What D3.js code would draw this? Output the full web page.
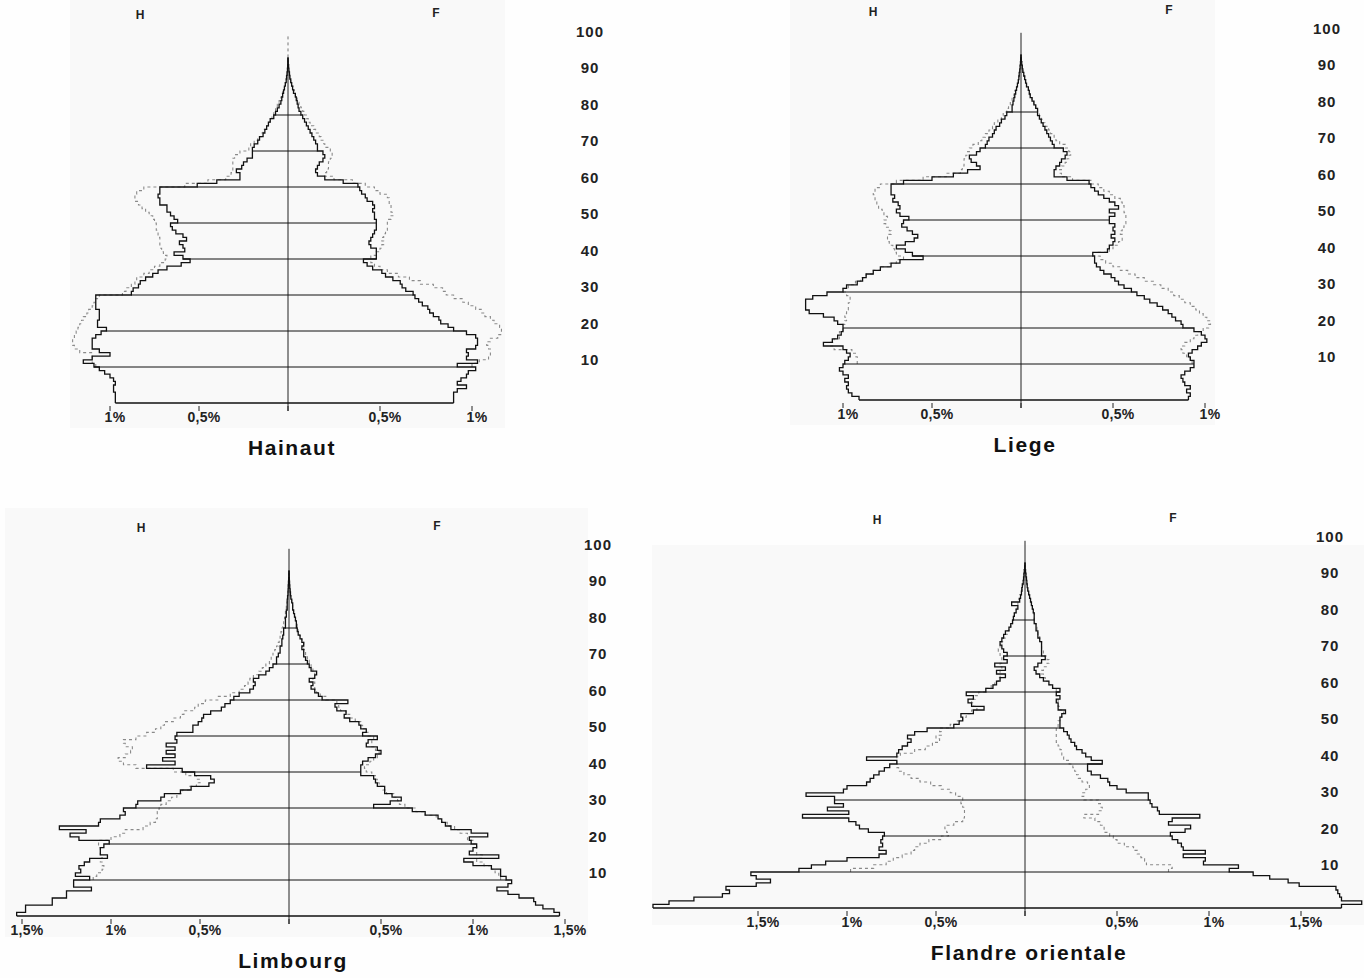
<!DOCTYPE html>
<html>
<head>
<meta charset="utf-8">
<script src="https://cdn.jsdelivr.net/npm/d3@7/dist/d3.min.js"></script>
<style>
  body { margin: 0; background: #fff; }
  svg { display: block; font-family: "Liberation Sans", Arial, sans-serif; }
</style>
</head>
<body>
<svg id="chart"></svg>
<script>
// --- Data: % of population per single year of age ---
// solid = current census (ages 0..95), dashed = earlier census aged (ages 10..95)
const ages = d3.range(0, 96);
const prevStart = 10;
const decades = [0, 10, 20, 30, 40, 50, 60, 70, 80];
const ageLabels = [10, 20, 30, 40, 50, 60, 70, 80, 90, 100];

const hainautH = [
  0.97, 0.97, 0.97, 0.98, 0.98, 0.97, 0.98, 1.00, 1.03, 1.06,
  1.09, 1.15, 1.10, 1.00, 1.06, 1.10, 1.10, 1.10, 1.08, 1.05,
  1.02, 1.07, 1.07, 1.06, 1.06, 1.06, 1.08, 1.08, 1.08, 1.08,
  0.88, 0.87, 0.84, 0.83, 0.80, 0.76, 0.73, 0.68, 0.60, 0.55,
  0.59, 0.64, 0.58, 0.59, 0.61, 0.57, 0.59, 0.63, 0.65, 0.66,
  0.62, 0.64, 0.66, 0.68, 0.68, 0.72, 0.72, 0.73, 0.72, 0.72,
  0.51, 0.40, 0.27, 0.27, 0.29, 0.26, 0.25, 0.23, 0.20, 0.20,
  0.20, 0.19, 0.17, 0.16, 0.14, 0.13, 0.12, 0.11, 0.10, 0.08,
  0.07, 0.06, 0.05, 0.04, 0.035, 0.03, 0.025, 0.02, 0.015, 0.01,
  0.008, 0.005, 0.003, 0.002, 0.001, 0
];
const hainautHprev = [
  1.08, 1.10, 1.10, 1.10, 1.17, 1.20, 1.21, 1.21, 1.20, 1.19,
  1.18, 1.17, 1.16, 1.15, 1.13, 1.12, 1.10, 1.09, 1.08, 1.06,
  0.93, 0.91, 0.88, 0.86, 0.85, 0.81, 0.78, 0.75, 0.72, 0.69,
  0.68, 0.70, 0.71, 0.72, 0.72, 0.72, 0.73, 0.73, 0.74, 0.74,
  0.75, 0.76, 0.78, 0.80, 0.82, 0.84, 0.86, 0.86, 0.85, 0.81,
  0.58, 0.45, 0.35, 0.32, 0.31, 0.31, 0.31, 0.31, 0.30, 0.27,
  0.22, 0.21, 0.19, 0.17, 0.15, 0.14, 0.12, 0.11, 0.10, 0.09,
  0.08, 0.07, 0.06, 0.05, 0.04, 0.035, 0.03, 0.02, 0.015, 0.01,
  0.008, 0.005, 0.003, 0.002, 0.001, 0
];
const hainautF = [
  0.90, 0.90, 0.90, 0.92, 0.97, 0.92, 0.94, 0.97, 0.98, 1.02,
  0.92, 1.03, 0.97, 0.98, 0.97, 1.02, 1.03, 1.03, 1.02, 0.97,
  0.90, 0.87, 0.83, 0.82, 0.79, 0.77, 0.76, 0.73, 0.71, 0.69,
  0.68, 0.64, 0.62, 0.61, 0.57, 0.53, 0.51, 0.46, 0.43, 0.41,
  0.48, 0.48, 0.48, 0.45, 0.44, 0.45, 0.46, 0.47, 0.48, 0.48,
  0.48, 0.47, 0.47, 0.46, 0.47, 0.46, 0.43, 0.42, 0.40, 0.39,
  0.38, 0.30, 0.20, 0.16, 0.15, 0.16, 0.17, 0.19, 0.20, 0.19,
  0.16, 0.16, 0.15, 0.14, 0.13, 0.12, 0.11, 0.10, 0.09, 0.08,
  0.07, 0.06, 0.055, 0.05, 0.045, 0.04, 0.03, 0.025, 0.02, 0.015,
  0.01, 0.008, 0.005, 0.003, 0.001, 0
];
const hainautFprev = [
  1.00, 1.04, 1.09, 1.10, 1.10, 1.09, 1.08, 1.10, 1.14, 1.16,
  1.16, 1.15, 1.12, 1.10, 1.07, 1.05, 1.02, 0.98, 0.95, 0.90,
  0.86, 0.84, 0.79, 0.72, 0.66, 0.60, 0.54, 0.50, 0.47, 0.45,
  0.45, 0.48, 0.50, 0.51, 0.52, 0.51, 0.52, 0.53, 0.54, 0.54,
  0.54, 0.56, 0.57, 0.56, 0.56, 0.55, 0.55, 0.54, 0.50, 0.47,
  0.42, 0.35, 0.25, 0.20, 0.21, 0.22, 0.22, 0.23, 0.24, 0.24,
  0.23, 0.20, 0.19, 0.18, 0.17, 0.15, 0.14, 0.12, 0.11, 0.10,
  0.09, 0.08, 0.07, 0.06, 0.05, 0.04, 0.035, 0.03, 0.02, 0.015,
  0.01, 0.008, 0.005, 0.003, 0.001, 0
];

const liegeH = [
  0.91, 0.95, 0.97, 0.98, 0.97, 0.99, 0.97, 1.00, 1.02, 1.00,
  0.99, 0.97, 0.96, 0.98, 1.00, 1.11, 1.06, 1.03, 1.01, 1.00,
  1.00, 1.03, 1.05, 1.11, 1.19, 1.21, 1.21, 1.21, 1.17, 1.09,
  1.00, 0.98, 0.92, 0.89, 0.87, 0.83, 0.79, 0.73, 0.68, 0.55,
  0.61, 0.65, 0.70, 0.65, 0.60, 0.58, 0.61, 0.64, 0.67, 0.66,
  0.63, 0.68, 0.70, 0.68, 0.69, 0.72, 0.71, 0.73, 0.73, 0.73,
  0.66, 0.50, 0.38, 0.30, 0.23, 0.25, 0.28, 0.29, 0.25, 0.23,
  0.20, 0.19, 0.18, 0.16, 0.15, 0.14, 0.12, 0.11, 0.09, 0.08,
  0.05, 0.05, 0.045, 0.04, 0.035, 0.03, 0.025, 0.02, 0.015, 0.012,
  0.01, 0.007, 0.005, 0.003, 0.002, 0
];
const liegeHprev = [
  0.92, 0.92, 0.93, 0.95, 1.05, 1.07, 1.05, 1.02, 1.02, 1.00,
  1.00, 0.99, 0.98, 0.99, 0.98, 0.97, 0.97, 0.96, 0.96, 0.98,
  1.00, 0.97, 0.93, 0.90, 0.87, 0.83, 0.79, 0.74, 0.70, 0.66,
  0.70, 0.71, 0.72, 0.74, 0.75, 0.75, 0.73, 0.74, 0.76, 0.77,
  0.75, 0.77, 0.78, 0.80, 0.81, 0.82, 0.82, 0.83, 0.82, 0.79,
  0.70, 0.55, 0.42, 0.34, 0.33, 0.32, 0.32, 0.31, 0.30, 0.29,
  0.27, 0.24, 0.22, 0.20, 0.18, 0.16, 0.15, 0.13, 0.11, 0.10,
  0.08, 0.07, 0.06, 0.05, 0.04, 0.035, 0.03, 0.02, 0.015, 0.012,
  0.01, 0.007, 0.005, 0.003, 0.002, 0
];
const liegeF = [
  0.91, 0.92, 0.90, 0.92, 0.89, 0.88, 0.87, 0.89, 0.92, 0.94,
  0.94, 0.92, 0.91, 0.93, 0.96, 0.98, 1.01, 1.00, 0.98, 0.94,
  0.88, 0.87, 0.84, 0.82, 0.80, 0.77, 0.74, 0.70, 0.67, 0.63,
  0.60, 0.56, 0.53, 0.51, 0.49, 0.45, 0.43, 0.41, 0.40, 0.40,
  0.39, 0.47, 0.48, 0.50, 0.51, 0.49, 0.51, 0.50, 0.51, 0.48,
  0.48, 0.51, 0.48, 0.53, 0.51, 0.48, 0.45, 0.42, 0.40, 0.38,
  0.37, 0.25, 0.18, 0.18, 0.19, 0.21, 0.22, 0.24, 0.25, 0.23,
  0.18, 0.17, 0.16, 0.15, 0.14, 0.13, 0.12, 0.11, 0.10, 0.09,
  0.09, 0.08, 0.07, 0.06, 0.05, 0.045, 0.04, 0.03, 0.025, 0.02,
  0.015, 0.01, 0.007, 0.004, 0.002, 0
];
const liegeFprev = [
  0.93, 0.92, 0.90, 0.88, 0.87, 0.89, 0.92, 0.94, 0.96, 0.99,
  1.02, 1.03, 1.01, 0.99, 0.97, 0.95, 0.92, 0.89, 0.86, 0.83,
  0.80, 0.76, 0.72, 0.67, 0.62, 0.58, 0.54, 0.50, 0.46, 0.43,
  0.42, 0.48, 0.50, 0.53, 0.55, 0.55, 0.54, 0.55, 0.56, 0.57,
  0.57, 0.57, 0.56, 0.56, 0.55, 0.54, 0.51, 0.48, 0.45, 0.42,
  0.38, 0.28, 0.22, 0.21, 0.22, 0.24, 0.25, 0.26, 0.27, 0.26,
  0.24, 0.21, 0.19, 0.18, 0.16, 0.15, 0.13, 0.12, 0.11, 0.10,
  0.09, 0.08, 0.07, 0.06, 0.05, 0.045, 0.04, 0.03, 0.025, 0.02,
  0.015, 0.01, 0.007, 0.004, 0.002, 0
];

const limbourgH = [
  1.53, 1.48, 1.48, 1.33, 1.33, 1.25, 1.25, 1.11, 1.21, 1.21,
  1.12, 1.20, 1.17, 1.18, 1.15, 1.12, 1.02, 1.06, 1.06, 1.04,
  1.01, 1.18, 1.23, 1.14, 1.29, 1.07, 1.06, 0.95, 0.92, 0.93,
  0.86, 0.85, 0.72, 0.70, 0.61, 0.55, 0.45, 0.42, 0.44, 0.53,
  0.60, 0.80, 0.64, 0.71, 0.64, 0.69, 0.64, 0.69, 0.63, 0.64,
  0.63, 0.54, 0.54, 0.51, 0.49, 0.48, 0.44, 0.38, 0.36, 0.33,
  0.31, 0.28, 0.22, 0.20, 0.19, 0.20, 0.17, 0.13, 0.11, 0.09,
  0.07, 0.07, 0.06, 0.05, 0.05, 0.04, 0.04, 0.035, 0.03, 0.03,
  0.02, 0.02, 0.02, 0.015, 0.015, 0.01, 0.01, 0.01, 0.008, 0.006,
  0.005, 0.004, 0.003, 0.002, 0.001, 0
];
const limbourgHprev = [
  1.10, 1.08, 1.05, 1.04, 1.05, 1.06, 1.05, 1.06, 1.06, 1.07,
  1.07, 1.00, 0.95, 0.92, 0.82, 0.78, 0.75, 0.74, 0.74, 0.73,
  0.72, 0.69, 0.66, 0.63, 0.60, 0.56, 0.52, 0.50, 0.52, 0.58,
  0.65, 0.86, 0.93, 0.96, 0.92, 0.89, 0.88, 0.92, 0.93, 0.86,
  0.80, 0.75, 0.72, 0.70, 0.65, 0.61, 0.59, 0.53, 0.51, 0.47,
  0.40, 0.33, 0.28, 0.25, 0.23, 0.22, 0.20, 0.17, 0.15, 0.13,
  0.11, 0.10, 0.09, 0.08, 0.07, 0.06, 0.055, 0.05, 0.045, 0.04,
  0.035, 0.03, 0.025, 0.02, 0.02, 0.015, 0.012, 0.01, 0.008, 0.006,
  0.005, 0.004, 0.003, 0.002, 0.001, 0
];
const limbourgF = [
  1.47, 1.44, 1.38, 1.34, 1.33, 1.25, 1.19, 1.13, 1.19, 1.21,
  1.18, 1.15, 1.15, 1.10, 1.00, 0.95, 1.14, 0.98, 1.00, 1.02,
  0.99, 0.98, 1.08, 0.99, 0.88, 0.85, 0.83, 0.81, 0.74, 0.67,
  0.46, 0.55, 0.61, 0.56, 0.52, 0.52, 0.48, 0.47, 0.46, 0.39,
  0.39, 0.39, 0.40, 0.43, 0.47, 0.50, 0.48, 0.42, 0.43, 0.48,
  0.40, 0.42, 0.39, 0.38, 0.33, 0.30, 0.31, 0.26, 0.25, 0.32,
  0.18, 0.16, 0.14, 0.12, 0.13, 0.11, 0.14, 0.15, 0.12, 0.11,
  0.10, 0.09, 0.08, 0.08, 0.07, 0.08, 0.07, 0.06, 0.05, 0.045,
  0.04, 0.04, 0.035, 0.03, 0.025, 0.02, 0.02, 0.015, 0.01, 0.008,
  0.006, 0.004, 0.003, 0.002, 0.001, 0
];
const limbourgFprev = [
  1.15, 1.14, 1.12, 1.10, 1.06, 1.02, 1.05, 1.02, 1.02, 1.02,
  1.00, 0.97, 0.97, 0.93, 0.90, 0.86, 0.83, 0.80, 0.74, 0.69,
  0.63, 0.60, 0.59, 0.57, 0.53, 0.51, 0.49, 0.48, 0.47, 0.45,
  0.42, 0.41, 0.44, 0.46, 0.48, 0.49, 0.47, 0.45, 0.45, 0.46,
  0.43, 0.42, 0.40, 0.39, 0.36, 0.33, 0.31, 0.28, 0.27, 0.26,
  0.20, 0.17, 0.15, 0.14, 0.14, 0.13, 0.14, 0.14, 0.13, 0.12,
  0.11, 0.10, 0.09, 0.09, 0.08, 0.08, 0.07, 0.06, 0.055, 0.05,
  0.045, 0.04, 0.035, 0.03, 0.025, 0.02, 0.02, 0.015, 0.01, 0.008,
  0.006, 0.004, 0.003, 0.002, 0.001, 0
];

const flandreH = [
  2.09, 2.00, 1.86, 1.70, 1.66, 1.68, 1.51, 1.43, 1.51, 1.54,
  1.27, 1.20, 1.12, 1.00, 0.82, 0.78, 0.82, 0.80, 0.81, 0.80,
  0.79, 0.88, 0.93, 0.95, 0.99, 1.25, 0.99, 1.11, 1.02, 1.07,
  1.07, 1.23, 1.02, 1.00, 0.89, 0.87, 0.85, 0.82, 0.79, 0.76,
  0.72, 0.89, 0.72, 0.71, 0.69, 0.66, 0.64, 0.66, 0.62, 0.55,
  0.40, 0.37, 0.35, 0.36, 0.29, 0.23, 0.30, 0.32, 0.29, 0.33,
  0.22, 0.18, 0.16, 0.14, 0.11, 0.16, 0.11, 0.17, 0.10, 0.12,
  0.10, 0.12, 0.13, 0.14, 0.13, 0.12, 0.11, 0.09, 0.08, 0.07,
  0.065, 0.06, 0.05, 0.04, 0.075, 0.03, 0.025, 0.02, 0.018, 0.015,
  0.01, 0.008, 0.006, 0.004, 0.002, 0
];
const flandreHprev = [
  0.98, 0.85, 0.78, 0.74, 0.69, 0.64, 0.62, 0.59, 0.54, 0.47,
  0.43, 0.44, 0.45, 0.40, 0.35, 0.34, 0.34, 0.34, 0.35, 0.36,
  0.35, 0.39, 0.42, 0.47, 0.53, 0.59, 0.64, 0.68, 0.71, 0.72,
  0.72, 0.72, 0.70, 0.62, 0.56, 0.52, 0.48, 0.50, 0.47, 0.48,
  0.42, 0.38, 0.35, 0.33, 0.30, 0.27, 0.29, 0.30, 0.28, 0.26,
  0.22, 0.19, 0.17, 0.15, 0.14, 0.14, 0.13, 0.14, 0.13, 0.13,
  0.14, 0.15, 0.14, 0.13, 0.12, 0.11, 0.10, 0.09, 0.08, 0.07,
  0.065, 0.06, 0.05, 0.045, 0.04, 0.035, 0.03, 0.02, 0.015, 0.012,
  0.01, 0.008, 0.006, 0.004, 0.002, 0
];
const flandreF = [
  1.72, 1.83, 1.72, 1.71, 1.70, 1.69, 1.49, 1.43, 1.33, 1.24,
  1.11, 1.16, 0.97, 0.98, 0.86, 0.98, 0.86, 0.85, 0.83, 0.80,
  0.79, 0.87, 0.90, 0.78, 0.80, 0.95, 0.73, 0.72, 0.69, 0.68,
  0.67, 0.67, 0.55, 0.50, 0.46, 0.45, 0.41, 0.36, 0.34, 0.34,
  0.42, 0.36, 0.33, 0.31, 0.28, 0.27, 0.25, 0.24, 0.23, 0.21,
  0.19, 0.19, 0.19, 0.20, 0.22, 0.18, 0.18, 0.17, 0.19, 0.17,
  0.19, 0.15, 0.13, 0.10, 0.08, 0.06, 0.05, 0.07, 0.09, 0.11,
  0.09, 0.09, 0.09, 0.09, 0.08, 0.07, 0.07, 0.06, 0.06, 0.05,
  0.05, 0.05, 0.045, 0.04, 0.035, 0.03, 0.025, 0.02, 0.015, 0.012,
  0.01, 0.008, 0.005, 0.003, 0.001, 0
];
const flandreFprev = [
  0.78, 0.80, 0.66, 0.65, 0.63, 0.61, 0.59, 0.54, 0.50, 0.48,
  0.46, 0.43, 0.43, 0.41, 0.38, 0.32, 0.40, 0.42, 0.41, 0.40,
  0.32, 0.31, 0.33, 0.35, 0.34, 0.31, 0.29, 0.28, 0.27, 0.26,
  0.24, 0.21, 0.20, 0.20, 0.19, 0.18, 0.17, 0.17, 0.17, 0.17,
  0.18, 0.18, 0.19, 0.20, 0.21, 0.19, 0.18, 0.18, 0.18, 0.17,
  0.17, 0.15, 0.13, 0.11, 0.10, 0.09, 0.10, 0.12, 0.13, 0.12,
  0.10, 0.10, 0.09, 0.09, 0.08, 0.08, 0.07, 0.065, 0.06, 0.055,
  0.05, 0.05, 0.045, 0.04, 0.035, 0.03, 0.025, 0.02, 0.015, 0.012,
  0.01, 0.008, 0.005, 0.003, 0.001, 0
];

const ticksSmall = [0.5, 1];
const ticksLarge = [0.5, 1, 1.5];
const fmtTick = v => String(v).replace(".", ",") + "%";

// --- Layout of the four panels ---
const panels = [
  { title: "Hainaut", cx: 288, base: 403, H: hainautH, Hp: hainautHprev, F: hainautF, Fp: hainautFprev,
    ticks: ticksSmall, labelX: 590, bg: [70, 0, 435, 428], dottedTop: true },
  { title: "Liege", cx: 1021, base: 400, H: liegeH, Hp: liegeHprev, F: liegeF, Fp: liegeFprev,
    ticks: ticksSmall, labelX: 1327, bg: [790, 0, 425, 425] },
  { title: "Limbourg", cx: 289, base: 916, H: limbourgH, Hp: limbourgHprev, F: limbourgF, Fp: limbourgFprev,
    ticks: ticksLarge, labelX: 598, bg: [5, 508, 583, 429] },
  { title: "Flandre orientale", cx: 1025, base: 908, H: flandreH, Hp: flandreHprev, F: flandreF, Fp: flandreFprev,
    ticks: ticksLarge, labelX: 1330, bg: [652, 545, 712, 380] }
];

const svg = d3.select("#chart").attr("width", 1364).attr("height", 978);
svg.append("rect").attr("width", 1364).attr("height", 978).attr("fill", "#fefefe");

const line = d3.line();

function stepPoints(vals, start, xs, y) {
  const pts = [];
  vals.forEach((v, i) => {
    const a = start + i;
    pts.push([xs(v), y(a)], [xs(v), y(a + 1)]);
  });
  return pts;
}

panels.forEach(p => {
  const g = svg.append("g");
  const xL = d3.scaleLinear().domain([0, 1]).range([p.cx, p.cx - 178]);
  const xR = d3.scaleLinear().domain([0, 1]).range([p.cx, p.cx + 184]);
  const y = d3.scaleLinear().domain([0, 100]).range([p.base, p.base - 360]);
  const yLab = d3.scaleLinear().domain([10, 100]).range([p.base - 43, p.base - 371.5]);

  g.append("rect")
    .attr("x", p.bg[0]).attr("y", p.bg[1]).attr("width", p.bg[2]).attr("height", p.bg[3])
    .attr("fill", "#f9f9f9");

  // centre axis (Hainaut: dotted above the peak)
  g.append("line")
    .attr("x1", p.cx).attr("x2", p.cx)
    .attr("y1", p.base + 8).attr("y2", p.dottedTop ? y(96) : y(102))
    .attr("stroke", "#222").attr("stroke-width", 1);
  if (p.dottedTop) {
    g.append("line")
      .attr("x1", p.cx).attr("x2", p.cx)
      .attr("y1", y(96)).attr("y2", y(102.5))
      .attr("stroke", "#777").attr("stroke-width", 1)
      .attr("stroke-dasharray", "3,3");
  }

  // dashed (earlier) profiles
  [[p.Hp, xL], [p.Fp, xR]].forEach(([vals, xs]) => {
    g.append("path")
      .attr("d", line(stepPoints(vals, prevStart, xs, y)))
      .attr("fill", "none")
      .attr("stroke", "#8a8a8a")
      .attr("stroke-width", 1.1)
      .attr("stroke-dasharray", "3,3");
  });

  // solid (current) profiles
  [[p.H, xL], [p.F, xR]].forEach(([vals, xs]) => {
    g.append("path")
      .attr("d", line(stepPoints(vals, 0, xs, y)))
      .attr("fill", "none")
      .attr("stroke", "#111")
      .attr("stroke-width", 1.3);
  });

  // decade lines (age 0 is the base of the pyramid)
  g.selectAll("line.dec")
    .data(decades)
    .enter()
    .append("line")
    .attr("class", "dec")
    .attr("x1", a => xL(p.H[a]))
    .attr("x2", a => xR(p.F[a]))
    .attr("y1", a => y(a)).attr("y2", a => y(a))
    .attr("stroke", "#111")
    .attr("stroke-width", a => a === 0 ? 1.3 : 1);

  // x ticks + labels
  const tickData = [0].concat(p.ticks.map(t => -t), p.ticks);
  g.selectAll("line.tick")
    .data(tickData)
    .enter()
    .append("line")
    .attr("class", "tick")
    .attr("x1", t => t < 0 ? xL(-t) : xR(t))
    .attr("x2", t => t < 0 ? xL(-t) : xR(t))
    .attr("y1", p.base + 3).attr("y2", p.base + 8)
    .attr("stroke", "#222").attr("stroke-width", 1);

  g.selectAll("text.tick")
    .data(tickData.filter(t => t !== 0))
    .enter()
    .append("text")
    .attr("class", "tick")
    .attr("x", t => (t < 0 ? xL(-t) : xR(t)) + 5)
    .attr("y", p.base + 14)
    .attr("dy", "0.35em")
    .attr("text-anchor", "middle")
    .style("font-size", "14px")
    .style("font-weight", "700")
    .style("letter-spacing", "0.3px")
    .style("fill", "#222")
    .text(t => fmtTick(Math.abs(t)));

  // age labels
  g.selectAll("text.age")
    .data(ageLabels)
    .enter()
    .append("text")
    .attr("class", "age")
    .attr("x", p.labelX)
    .attr("y", a => yLab(a))
    .attr("dy", "0.35em")
    .attr("text-anchor", "middle")
    .style("font-size", "15px")
    .style("font-weight", "700")
    .style("letter-spacing", "1px")
    .style("fill", "#222")
    .text(a => a);

  // H / F
  g.append("text")
    .attr("x", p.cx - 148).attr("y", p.base - 388).attr("dy", "0.35em")
    .attr("text-anchor", "middle")
    .style("font-size", "12px").style("font-weight", "700").style("fill", "#222")
    .text("H");
  g.append("text")
    .attr("x", p.cx + 148).attr("y", p.base - 390).attr("dy", "0.35em")
    .attr("text-anchor", "middle")
    .style("font-size", "12px").style("font-weight", "700").style("fill", "#222")
    .text("F");

  // title
  g.append("text")
    .attr("x", p.cx + 4).attr("y", p.base + 45).attr("dy", "0.35em")
    .attr("text-anchor", "middle")
    .style("font-size", "21px").style("font-weight", "700")
    .style("letter-spacing", "1.6px").style("fill", "#111")
    .text(p.title);
});
</script>
</body>
</html>
